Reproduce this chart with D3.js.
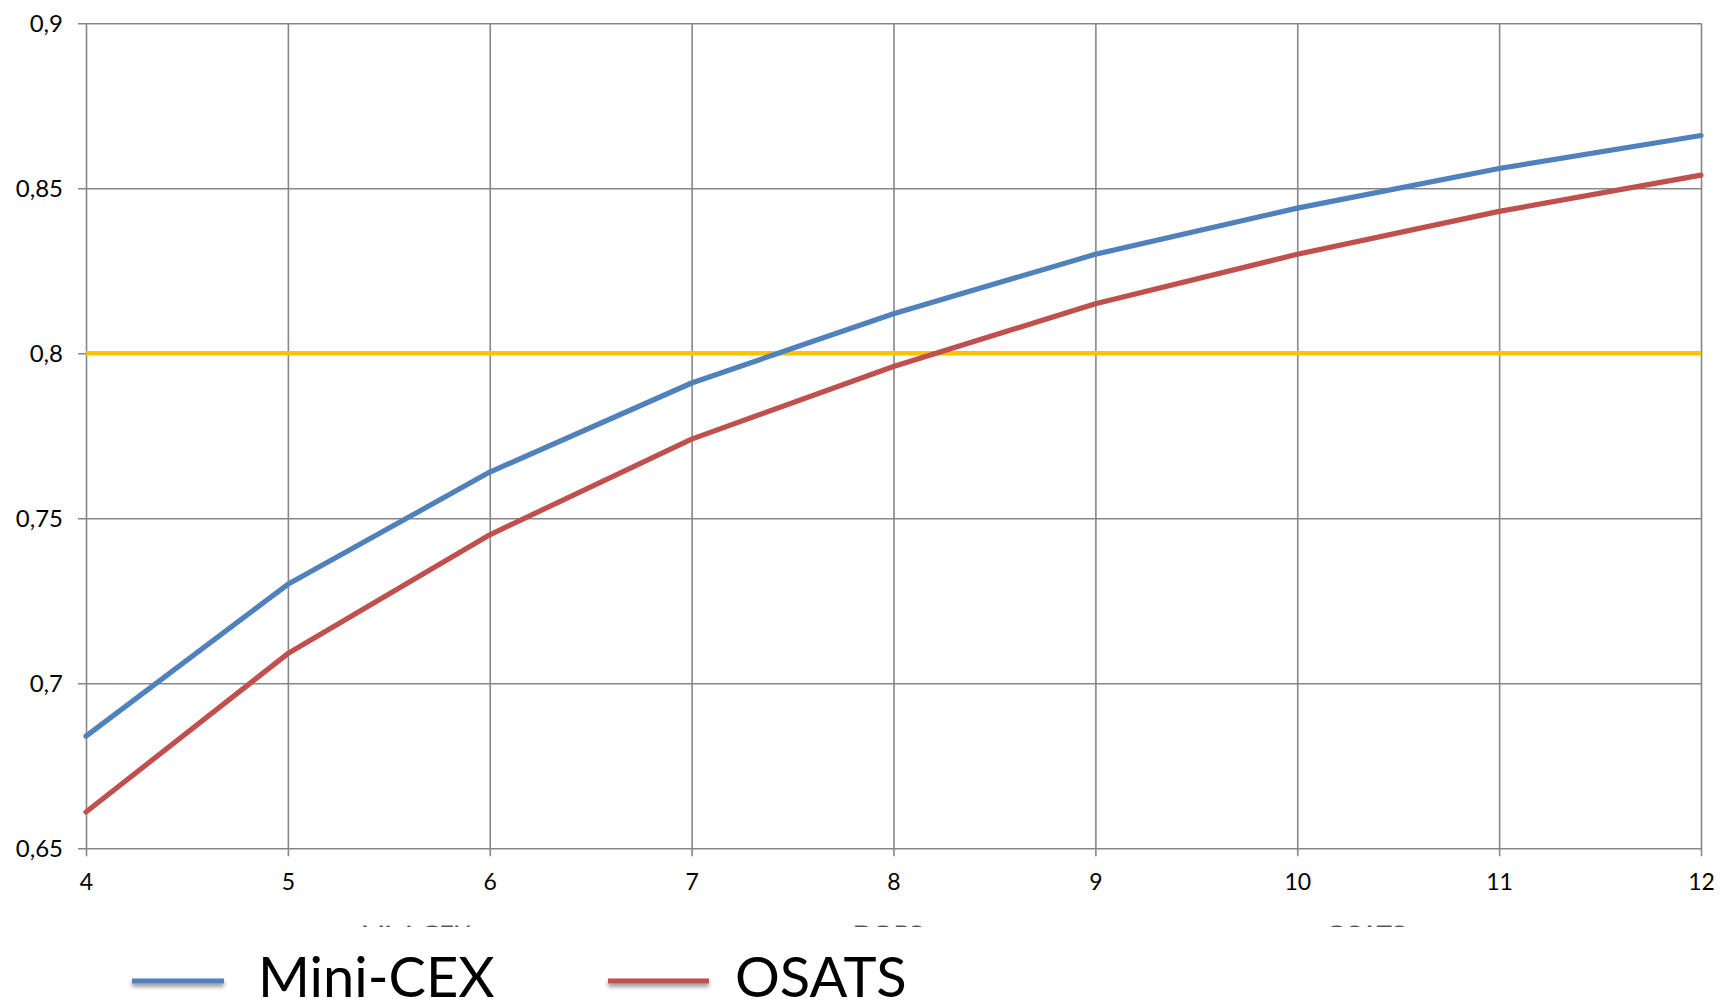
<!DOCTYPE html>
<html>
<head>
<meta charset="utf-8">
<script src="https://cdn.jsdelivr.net/npm/d3@7"></script>
<style>
html,body{margin:0;padding:0;background:#fff;}
svg{display:block;}
text{font-family:Lato,"Open Sans",sans-serif;fill:#000;}
</style>
</head>
<body>
<svg id="chart" width="1735" height="1002"></svg>
<script>
const xValues = [4, 5, 6, 7, 8, 9, 10, 11, 12];
const miniCex = [0.684, 0.730, 0.764, 0.791, 0.812, 0.830, 0.844, 0.856, 0.866];
const osats   = [0.661, 0.709, 0.745, 0.774, 0.796, 0.815, 0.830, 0.843, 0.854];
const threshold = 0.8;
const yTicks = [0.65, 0.7, 0.75, 0.8, 0.85, 0.9];
const yTickLabels = ["0,65", "0,7", "0,75", "0,8", "0,85", "0,9"];
const seriesNames = ["Mini-CEX", "OSATS"];
const hiddenTitles = ["Mini-CEX", "DOPS", "OSATS"];

const W = 1735, H = 1002;
const m = {left: 86, right: 1701, top: 23.3, bottom: 848.3};
const colors = {"Mini-CEX": "#4F81BD", "OSATS": "#C0504D", thr: "#FFC000", grid: "#878787"};

const svg = d3.select("#chart");
const defs = svg.append("defs");
const f = defs.append("filter").attr("id", "shadow").attr("filterUnits", "userSpaceOnUse")
  .attr("x", -20).attr("y", -20).attr("width", 160).attr("height", 50);
f.append("feDropShadow").attr("dx", 0).attr("dy", 3).attr("stdDeviation", 2).attr("flood-color", "#000").attr("flood-opacity", 0.45);
defs.append("clipPath").attr("id", "cut").append("rect").attr("x", 0).attr("y", 925.4).attr("width", W).attr("height", 1.6);

const x = d3.scaleLinear().domain([4, 12]).range([m.left, m.right]);
const y = d3.scaleLinear().domain([0.65, 0.9]).range([m.bottom, m.top]);

// horizontal gridlines + y axis
const yAxis = d3.axisLeft(y).tickValues(yTicks).tickSize(-(m.right - m.left)).tickSizeOuter(0)
  .tickFormat((d, i) => yTickLabels[i]);
const gy = svg.append("g").attr("transform", `translate(${m.left},0)`).call(yAxis);
gy.select(".domain").remove();
gy.selectAll(".tick line").attr("stroke", colors.grid).attr("stroke-width", 1.6).attr("x1", -8);
gy.selectAll(".tick text").attr("x", -23).attr("dy", "0.35em").style("font-size", "24px").style("font-family", "Lato");

// vertical gridlines + x axis
const xAxis = d3.axisBottom(x).tickValues(xValues).tickSize(-(m.bottom - m.top)).tickSizeOuter(0).tickFormat(d3.format("d"));
const gx = svg.append("g").attr("transform", `translate(0,${m.bottom})`).call(xAxis);
gx.select(".domain").remove();
gx.selectAll(".tick line").attr("stroke", colors.grid).attr("stroke-width", 1.6).attr("y1", 8);
gx.selectAll(".tick text").attr("y", 34).attr("dy", "0.35em").style("font-size", "23px").style("font-family", "Lato");

// threshold line
svg.append("line").attr("x1", x(4)).attr("x2", x(12)).attr("y1", y(threshold)).attr("y2", y(threshold))
  .attr("stroke", colors.thr).attr("stroke-width", 4.5);

// series
const line = d3.line().x((d, i) => x(xValues[i])).y(d => y(d));
[[miniCex, "Mini-CEX"], [osats, "OSATS"]].forEach(([vals, name]) => {
  svg.append("path").datum(vals).attr("d", line).attr("fill", "none")
    .attr("stroke", colors[name]).attr("stroke-width", 5.2).attr("stroke-linejoin", "round").attr("stroke-linecap", "round");
});

// clipped remnants of hidden labels
const remnantX = d3.scaleOrdinal().domain(hiddenTitles).range([416, 888, 1366]);
svg.append("g").attr("clip-path", "url(#cut)").selectAll("text").data(hiddenTitles).join("text")
  .attr("x", d => remnantX(d)).attr("y", 945).attr("text-anchor", "middle")
  .style("font-size", "26px").style("fill", "#555").text(d => d);

// legend
const legX = d3.scaleOrdinal().domain(seriesNames).range([132, 608]);
const leg = svg.append("g").selectAll("g").data(seriesNames).join("g")
  .attr("transform", d => `translate(${legX(d)},981)`);
leg.append("rect").attr("x", 0).attr("y", -2.5).attr("width", d => d === "Mini-CEX" ? 92 : 101).attr("height", 5)
  .attr("fill", d => colors[d]).attr("filter", "url(#shadow)");
leg.append("text").attr("x", d => d === "Mini-CEX" ? 126 : 127).attr("y", 16)
  .style("font-size", "56px").text(d => d);
</script>
</body>
</html>
